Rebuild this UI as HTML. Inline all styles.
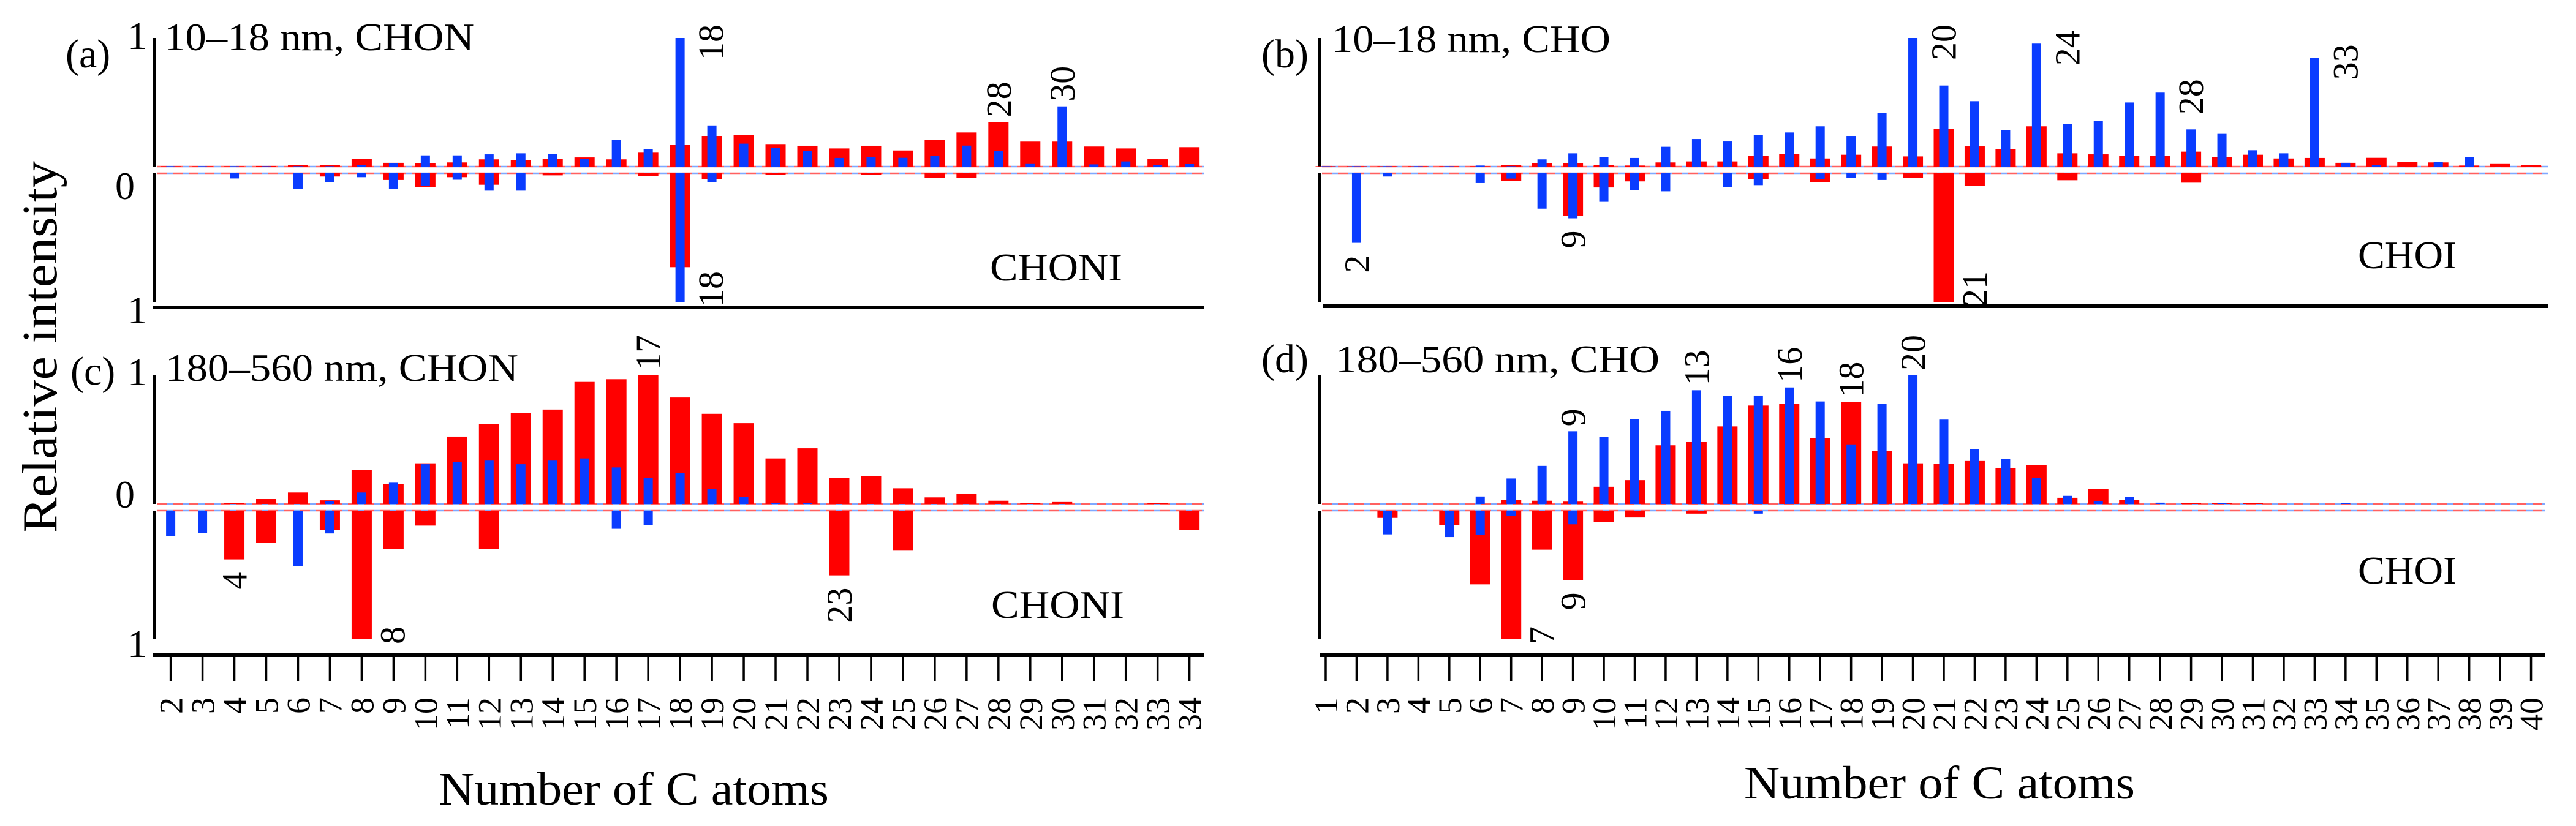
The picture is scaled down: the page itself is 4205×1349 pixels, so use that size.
<!DOCTYPE html>
<html><head><meta charset="utf-8"><style>
html,body{margin:0;padding:0;background:#fff}
svg{display:block}
svg text{font-family:"Liberation Serif","Times New Roman","DejaVu Serif",serif;fill:#000}
</style></head><body>
<svg id="chart" width="4205" height="1349" viewBox="0 0 4205 1349" xmlns="http://www.w3.org/2000/svg" font-family="Liberation Serif, Times New Roman, DejaVu Serif, serif">
<text font-family="Liberation Serif, serif" transform="translate(92,870) rotate(-90)" font-size="80" textLength="607" lengthAdjust="spacingAndGlyphs">Relative intensity</text>
<g id="panels"></g>
</svg>
<script>
// ---------- DATA ----------
const catsA = [2,3,4,5,6,7,8,9,10,11,12,13,14,15,16,17,18,19,20,21,22,23,24,25,26,27,28,29,30,31,32,33,34];
const redUpA   = [0.003,0.003,0.003,0.005,0.01,0.013,0.06,0.029,0.027,0.032,0.056,0.052,0.059,0.071,0.056,0.108,0.17,0.238,0.246,0.175,0.162,0.141,0.162,0.125,0.208,0.265,0.346,0.194,0.194,0.156,0.141,0.057,0.151];
const blueUpA  = [0.003,0.003,0.003,0.003,0.003,0.003,0.011,0.024,0.087,0.087,0.095,0.103,0.098,0.06,0.206,0.135,1.0,0.32,0.178,0.143,0.122,0.067,0.075,0.068,0.084,0.163,0.122,0.02,0.468,0.017,0.04,0.011,0.019];
const redDnA   = [0,0,0,0,0,0.025,0,0.052,0.105,0.03,0.089,0,0.016,0,0,0.02,0.73,0.044,0,0.014,0,0,0.01,0,0.038,0.038,0,0,0,0,0,0,0];
const blueDnA  = [0,0,0.04,0,0.119,0.07,0.03,0.119,0.1,0.05,0.135,0.135,0,0,0,0,1.0,0.067,0,0,0,0,0,0,0,0,0,0,0,0,0,0,0];
const catsB = [1,2,3,4,5,6,7,8,9,10,11,12,13,14,15,16,17,18,19,20,21,22,23,24,25,26,27,28,29,30,31,32,33,34,35,36,37,38,39,40];
const redUpB   = [0.003,0.003,0.003,0.003,0.003,0.003,0.014,0.024,0.027,0.011,0.008,0.032,0.04,0.04,0.084,0.1,0.063,0.092,0.156,0.079,0.294,0.157,0.138,0.313,0.103,0.095,0.084,0.084,0.116,0.075,0.092,0.063,0.067,0.029,0.068,0.037,0.032,0.008,0.02,0.011];
const blueUpB  = [0.003,0.003,0.003,0.003,0.003,0.008,0.003,0.056,0.103,0.076,0.067,0.154,0.214,0.195,0.243,0.265,0.313,0.238,0.416,1.0,0.63,0.508,0.284,0.956,0.329,0.356,0.498,0.575,0.289,0.254,0.127,0.103,0.846,0.029,0.011,0,0.037,0.075,0,0];
const redDnB   = [0,0,0,0,0,0,0.06,0,0.333,0.11,0.063,0,0,0,0.044,0,0.068,0,0,0.038,1.0,0.1,0,0,0.054,0,0,0,0.073,0,0,0,0,0,0,0,0,0,0,0];
const blueDnB  = [0,0.541,0.025,0,0,0.076,0.041,0.275,0.35,0.222,0.132,0.14,0,0.108,0.092,0,0.044,0.037,0.052,0,0,0,0,0,0,0,0,0,0,0,0,0,0,0,0,0,0,0,0,0];
const catsC = catsA;
const redUpC   = [0,0,0.008,0.038,0.089,0.028,0.266,0.157,0.316,0.524,0.62,0.709,0.734,0.949,0.97,1.0,0.828,0.701,0.628,0.354,0.433,0.203,0.218,0.122,0.051,0.081,0.025,0.008,0.015,0,0,0.008,0];
const blueUpC  = [0,0,0,0,0,0.02,0.089,0.165,0.309,0.324,0.337,0.309,0.337,0.354,0.284,0.203,0.241,0.119,0.053,0.008,0.008,0,0,0,0,0,0,0,0,0,0,0,0];
const redDnC   = [0,0,0.379,0.25,0,0.149,1.0,0.3,0.116,0,0.298,0,0,0,0,0,0,0,0,0,0,0.503,0,0.311,0,0,0,0,0,0,0,0,0.149];
const blueDnC  = [0.2,0.174,0,0,0.432,0.177,0,0,0,0,0,0,0,0,0.141,0.114,0,0,0,0,0,0,0,0,0,0,0,0,0,0,0,0,0];
const catsD = catsB;
const redUpD   = [0,0,0,0,0,0,0.033,0.025,0.018,0.134,0.185,0.456,0.481,0.603,0.765,0.777,0.514,0.792,0.413,0.316,0.314,0.334,0.281,0.304,0.048,0.119,0.03,0,0.005,0.005,0.008,0,0,0,0,0,0,0,0,0];
const blueUpD  = [0,0,0,0,0,0.058,0.198,0.296,0.565,0.522,0.658,0.724,0.884,0.841,0.843,0.906,0.797,0.463,0.777,1.0,0.656,0.425,0.352,0.203,0.063,0.02,0.056,0.01,0,0.008,0,0,0,0.008,0,0,0,0,0,0];
const redDnD   = [0,0,0.056,0,0.114,0.573,1.0,0.303,0.54,0.088,0.053,0,0.023,0,0,0,0,0,0,0,0,0,0,0,0,0,0,0,0,0,0,0,0,0,0,0,0,0,0,0];
const blueDnD  = [0,0,0.184,0,0.205,0.187,0.04,0,0.106,0,0,0,0,0,0.023,0,0,0,0,0,0,0,0,0,0,0,0,0,0,0,0,0,0,0,0,0,0,0,0,0];
// Annotations: [category, side, placement]
const annA = [[18,'up','beside'],[28,'up','above'],[30,'up','above'],[18,'dn','beside']];
const annB = [[20,'up','beside'],[24,'up','beside'],[28,'up','beside'],[33,'up','beside'],[2,'dn','below'],[9,'dn','below'],[21,'dn','beside']];
const annC = [[17,'up','above'],[4,'dn','below'],[8,'dn','beside'],[23,'dn','below']];
const annD = [[9,'up','above'],[13,'up','above'],[16,'up','above'],[18,'up','above'],[20,'up','above'],[7,'dn','beside'],[9,'dn','below']];

// ---------- DRAW ----------
const NS='http://www.w3.org/2000/svg';
const FF='Liberation Serif, Times New Roman, DejaVu Serif, serif';
const root=document.getElementById('panels');
function mk(tag,attrs,parent){const e=document.createElementNS(NS,tag);for(const k in attrs)e.setAttribute(k,attrs[k]);if(tag==='text')e.setAttribute('font-family',FF);(parent||root).appendChild(e);return e;}

const panels=[
 {id:'a',letter:'(a)',title:'10–18 nm, CHON',lower:'CHONI',cats:catsA,ru:redUpA,bu:blueUpA,rd:redDnA,bd:blueDnA,ann:annA,
  axX:252,x0:278.6,dx:51.97,top:62,upB:272,dnB:283,bot:493,axisY:502,axisEnd:1966,ticks:false,
  letterX:107,letterY:110,titleX:268,titleY:82,titleW:506,lowX:1616,lowY:458,lowW:216,oneTopY:80,zeroY:325,oneBotY:528,axisX0:250},
 {id:'b',letter:'(b)',title:'10–18 nm, CHO',lower:'CHOI',cats:catsB,ru:redUpB,bu:blueUpB,rd:redDnB,bd:blueDnB,ann:annB,
  axX:2154,x0:2164,dx:50.45,top:62,upB:272,dnB:283,bot:493,axisY:500,axisEnd:4160,ticks:false,
  letterX:2059,letterY:110,titleX:2174,titleY:85,titleW:455,lowX:3849,lowY:438,lowW:161,oneTopY:null,zeroY:null,oneBotY:null,axisX0:2160},
 {id:'c',letter:'(c)',title:'180–560 nm, CHON',lower:'CHONI',cats:catsC,ru:redUpC,bu:blueUpC,rd:redDnC,bd:blueDnC,ann:annC,
  axX:252,x0:278.6,dx:51.97,top:613,upB:823,dnB:834,bot:1044,axisY:1070,axisEnd:1966,ticks:true,
  letterX:115,letterY:628,titleX:270,titleY:622,titleW:576,lowX:1618,lowY:1009,lowW:217,oneTopY:629,zeroY:829,oneBotY:1073,axisX0:250,
  xlabX:716,xlabY:1314,xlabW:637},
 {id:'d',letter:'(d)',title:'180–560 nm, CHO',lower:'CHOI',cats:catsD,ru:redUpD,bu:blueUpD,rd:redDnD,bd:blueDnD,ann:annD,
  axX:2154,x0:2164,dx:50.45,top:613,upB:823,dnB:834,bot:1044,axisY:1070,axisEnd:4155,ticks:true,
  letterX:2059,letterY:608,titleX:2180,titleY:608,titleW:529,lowX:3849,lowY:953,lowW:161,oneTopY:null,zeroY:null,oneBotY:null,axisX0:2154,
  xlabX:2847,xlabY:1304,xlabW:638}
];

panels.forEach(p=>{
  const g=mk('g',{});
  
  
  const span=p.upB-p.top;
  const xS=c=>p.x0+(c-p.cats[0])*p.dx;
  const yUp=v=>p.upB-v*span;
  const yDn=v=>p.dnB+v*(p.bot-p.dnB);
  const va=mk('line',{x1:p.axX,y1:p.top,x2:p.axX,y2:p.upB,stroke:'#000','stroke-width':4},g);
  
  
  const vb=mk('line',{x1:p.axX,y1:p.dnB,x2:p.axX,y2:p.bot,stroke:'#000','stroke-width':4},g);
  
  
  const xa=mk('line',{x1:p.axisX0,y1:p.axisY,x2:p.axisEnd,y2:p.axisY,stroke:'#000','stroke-width':6},g);
  
  
  [p.upB,p.dnB].forEach((y,i)=>{
    const l1=mk('line',{x1:p.axX+4,y1:y,x2:p.axisEnd,y2:y,stroke:'#ff6060','stroke-width':2.5,'stroke-dasharray':'16 10'},g);
    
    
    const l2=mk('line',{x1:p.axX+4,y1:y,x2:p.axisEnd,y2:y,stroke:'#7fa8ff','stroke-width':2.5,'stroke-dasharray':'10 16','stroke-dashoffset':'-16'},g);
    
    
  });
  p.cats.forEach((c,i)=>{
    const x=xS(c);
    const rw=33,bw=15;
    if(p.ru[i]>0){const r=mk('rect',{x:x-rw/2,y:yUp(p.ru[i]),width:rw,height:p.upB-yUp(p.ru[i]),fill:'#ff0000'},g);
      
      }
    if(p.rd[i]>0){const r=mk('rect',{x:x-rw/2,y:p.dnB,width:rw,height:yDn(p.rd[i])-p.dnB,fill:'#ff0000'},g);
      
      }
    if(p.bu[i]>0){const r=mk('rect',{x:x-bw/2,y:yUp(p.bu[i]),width:bw,height:p.upB-yUp(p.bu[i]),fill:'#0a3cff'},g);
      
      }
    if(p.bd[i]>0){const r=mk('rect',{x:x-bw/2,y:p.dnB,width:bw,height:yDn(p.bd[i])-p.dnB,fill:'#0a3cff'},g);
      
      }
    if(p.ticks){
      const t=mk('line',{x1:x,y1:p.axisY,x2:x,y2:p.axisY+43,stroke:'#000','stroke-width':3.5},g);
      
      
      const tl=mk('text',{transform:`translate(${x+19},1139) rotate(-90)`,'font-size':54,'text-anchor':'end'},g);
      
      
      tl.textContent=String(c);
    }
  });
  p.ann.forEach(([c,side,mode])=>{
    const i=p.cats.indexOf(c);
    const x=xS(c);
    let tr,anchor;
    if(side==='up'){
      const v=Math.max(p.ru[i],p.bu[i]);
      if(mode==='beside'){tr=`translate(${x+70},${yUp(v)-22}) rotate(-90)`;anchor='end';}
      else {tr=`translate(${x+20},${yUp(v)-8}) rotate(-90)`;anchor='start';}
    } else {
      const v=Math.max(p.rd[i],p.bd[i]);
      if(mode==='beside'){tr=`translate(${x+70},${p.bot+8}) rotate(-90)`;anchor='start';}
      else {tr=`translate(${x+20},${yDn(v)+20}) rotate(-90)`;anchor='end';}
    }
    const t=mk('text',{transform:tr,'font-size':58,'text-anchor':anchor},g);
    
    
    t.textContent=String(c);
  });
  const lt=mk('text',{x:p.letterX,y:p.letterY,'font-size':66},g);
  
  
  lt.textContent=p.letter;
  const tt=mk('text',{x:p.titleX,y:p.titleY,'font-size':64,textLength:p.titleW,lengthAdjust:'spacingAndGlyphs'},g);
  
  
  tt.textContent=p.title;
  const lw=mk('text',{x:p.lowX,y:p.lowY,'font-size':64,textLength:p.lowW,lengthAdjust:'spacingAndGlyphs'},g);
  
  
  lw.textContent=p.lower;
  if(p.oneTopY!==null){
    const a1=mk('text',{x:208,y:p.oneTopY,'font-size':64},g);
    
    
    a1.textContent='1';
    const a0=mk('text',{x:188,y:p.zeroY,'font-size':64},g);
    
    
    a0.textContent='0';
    const ab=mk('text',{x:208,y:p.oneBotY,'font-size':64},g);
    
    
    ab.textContent='1';
  }
  if(p.xlabX){
    const xl=mk('text',{x:p.xlabX,y:p.xlabY,'font-size':76,textLength:p.xlabW,lengthAdjust:'spacingAndGlyphs'},g);
    
    
    xl.textContent='Number of C atoms';
  }
});
</script>
</body></html>
